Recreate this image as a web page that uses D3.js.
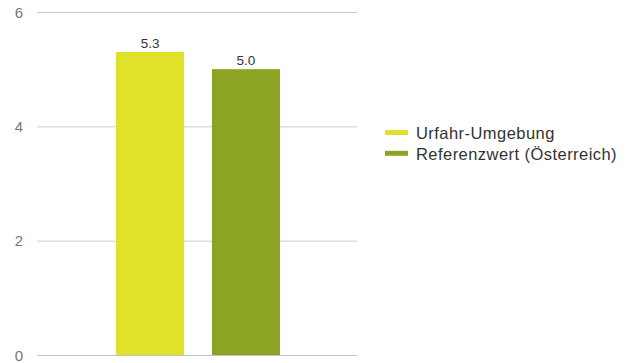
<!DOCTYPE html>
<html><head><meta charset="utf-8">
<script src="https://cdn.jsdelivr.net/npm/d3@7"></script>
<style>body{margin:0;background:#fff;font-family:"Liberation Sans",Arial,sans-serif;}</style>
</head><body><svg id="c" width="629" height="363"></svg>
<script>
const series = ["Urfahr-Umgebung", "Referenzwert (Österreich)"];
const values = [5.3, 5.0];
const labels = ["5.3", "5.0"];
const colors = ["#dfe228", "#8ca424"];
const ticks = [0, 2, 4, 6];

const svg = d3.select("#c");
const y = d3.scaleLinear().domain([0, 6]).range([355, 12]);
const x = d3.scaleBand().domain(series).range([116, 280]).paddingInner(0.29).paddingOuter(0);

svg.append("g").selectAll("line").data(ticks).join("line")
  .attr("x1", 37).attr("x2", 357)
  .attr("y1", d => y(d) + 0.5).attr("y2", d => y(d) + 0.5)
  .attr("stroke", d => d === 0 ? "#b8c4d0" : "#cccccc").attr("stroke-width", 1);

svg.append("g").selectAll("text").data(ticks).join("text")
  .attr("x", 19).attr("y", d => y(d) + 5.5)
  .attr("text-anchor", "middle").attr("font-size", 15).attr("fill", "#777")
  .text(d => d);

svg.append("g").selectAll("rect").data(series).join("rect")
  .attr("x", d => x(d)).attr("width", x.bandwidth())
  .attr("y", (d, i) => y(values[i])).attr("height", (d, i) => y(0) - y(values[i]))
  .attr("fill", (d, i) => colors[i]);

svg.append("g").selectAll("text").data(series).join("text")
  .attr("x", d => x(d) + x.bandwidth() / 2)
  .attr("y", (d, i) => y(values[i]) - 4)
  .attr("text-anchor", "middle").attr("font-size", 13.5).attr("fill", "#333")
  .text((d, i) => labels[i]);

const lg = svg.append("g").selectAll("g").data(series).join("g")
  .attr("transform", (d, i) => `translate(385,${132.5 + i * 20.8})`);
lg.append("rect").attr("x", 0).attr("y", -2.5).attr("width", 23).attr("height", 5)
  .attr("fill", (d, i) => colors[i]);
lg.append("text").attr("x", 31).attr("y", 6.5).attr("font-size", 16.5)
  .attr("letter-spacing", 0.45).attr("fill", "#333")
  .text(d => d);
</script></body></html>
